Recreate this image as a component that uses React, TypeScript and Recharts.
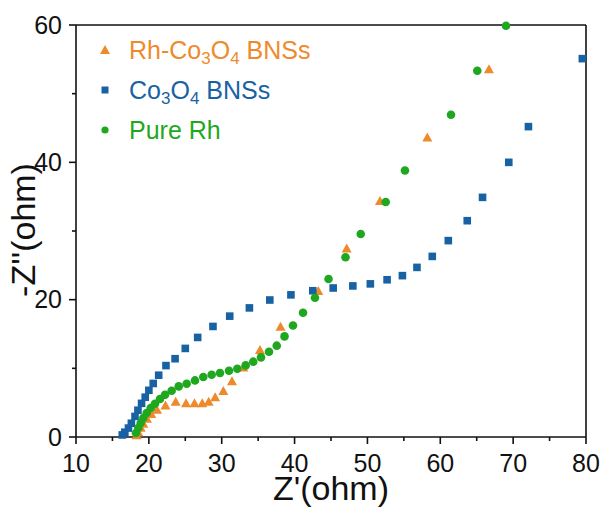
import { ReferenceLine, Scatter, ScatterChart, XAxis, YAxis } from "recharts";

/**
 * Nyquist plot: Rh-Co3O4 BNSs vs Co3O4 BNSs vs pure Rh.
 * Values, in ohm.
 */

const FONT = "'Liberation Sans', Arial, sans-serif";
const INK = "#111";

const ORANGE = "#ef8a2c";
const BLUE = "#1862a4";
const GREEN = "#1fa81f";

const X_TICKS = [10, 15, 20, 25, 30, 35, 40, 45, 50, 55, 60, 65, 70, 75, 80];
const Y_TICKS = [0, 10, 20, 30, 40, 50, 60];

const rhCoX = [
  18.33, 18.55, 18.88, 19.24, 19.74, 20.33, 21.12, 22.28, 23.68, 25.1, 26.26, 27.33,
  28.21, 29.1, 30.22, 31.41, 32.96, 35.25, 38.07, 43.26, 47.15, 51.72, 58.22, 66.68,
];
const rhCoY = [
  0.19, 0.63, 1.28, 1.86, 2.59, 3.28, 3.9, 4.51, 5.07, 4.85, 4.85, 4.85,
  5.07, 5.72, 6.64, 8.05, 10.05, 12.61, 15.99, 21.2, 27.38, 34.31, 43.54, 53.49,
];

const coX = [
  16.35, 16.7, 17.2, 17.6, 18.1, 18.5, 19.0, 19.5, 20.0, 20.6, 21.35, 22.35, 23.6, 25.0,
  26.7, 28.8, 31.1, 33.8, 36.6, 39.5, 42.5, 45.3, 48.0, 50.4, 52.7, 54.8, 56.8, 58.9,
  61.1, 63.7, 65.8, 69.4, 72.1, 79.5,
];
const coY = [
  0.3, 0.7, 1.3, 2.0, 3.0, 3.9, 4.9, 5.8, 6.8, 7.8, 9.0, 10.4, 11.4, 12.9,
  14.5, 16.1, 17.6, 18.8, 19.95, 20.7, 21.3, 21.7, 22.0, 22.3, 22.9, 23.5, 24.7, 26.3,
  28.6, 31.5, 34.9, 40.0, 45.2, 55.1,
];

const rhX = [
  18.23, 18.55, 18.88, 19.24, 19.7, 20.25, 20.84, 21.53, 22.22, 23.13, 24.1, 25.19,
  26.33, 27.47, 28.62, 29.76, 31.0, 32.14, 33.29, 34.33, 35.39, 36.49, 37.55, 38.62,
  39.78, 41.16, 42.8, 44.66, 46.99, 49.08, 52.51, 55.15, 61.47, 65.08, 69.02,
];
const rhY = [
  0.58, 1.31, 2.04, 2.77, 3.5, 4.22, 4.85, 5.53, 6.16, 6.74, 7.37, 7.76,
  8.24, 8.74, 9.07, 9.32, 9.65, 9.95, 10.43, 10.97, 11.59, 12.42, 13.3, 14.65,
  16.24, 18.1, 20.29, 23.0, 26.18, 29.56, 34.22, 38.82, 46.93, 53.34, 59.9,
];

const zip = (xs: number[], ys: number[]) => xs.map((x, i) => ({ x, y: ys[i] }));

const rhCoData = zip(rhCoX, rhCoY);
const coData = zip(coX, coY);
const rhData = zip(rhX, rhY);

// marker shapes, drawn around the point Recharts computes
const Triangle = ({ cx, cy, fill }: any) => (
  <polygon
    points={`${cx},${cy - 5.5} ${cx - 5},${cy + 3.5} ${cx + 5},${cy + 3.5}`}
    fill={fill}
  />
);
const Square = ({ cx, cy, fill }: any) => (
  <rect x={cx - 3.8} y={cy - 3.8} width={7.6} height={7.6} fill={fill} />
);
const Dot = ({ cx, cy, fill }: any) => <circle cx={cx} cy={cy} r={4.3} fill={fill} />;

// ticks: major ones get a label, minor ones only a short line
function XTick({ x, y, payload }: any) {
  const major = payload.value % 10 === 0;
  return (
    <g>
      <line x1={x} x2={x} y1={y} y2={y + (major ? 7 : 4)} stroke={INK} strokeWidth={1.6} />
      {major && (
        <text x={x} y={y + 35} textAnchor="middle" fontSize={25} fontFamily={FONT} fill={INK}>
          {payload.value}
        </text>
      )}
    </g>
  );
}

function YTick({ x, y, payload }: any) {
  const major = payload.value % 20 === 0;
  return (
    <g>
      <line x1={x} x2={x - (major ? 7 : 4)} y1={y} y2={y} stroke={INK} strokeWidth={1.6} />
      {major && (
        <text x={x - 14} y={y} dy="0.35em" textAnchor="end" fontSize={25} fontFamily={FONT} fill={INK}>
          {payload.value}
        </text>
      )}
    </g>
  );
}

const Sub = ({ children }: { children: string }) => (
  <span style={{ fontSize: "0.68em", position: "relative", top: "0.32em" }}>{children}</span>
);

function LegendRow({ top, color, marker, children }: any) {
  return (
    <div style={{ position: "absolute", left: 97, top: top - 15, height: 30, display: "flex" }}>
      <svg width={16} height={30}>
        {marker === "triangle" && <Triangle cx={8} cy={15.5} fill={color} />}
        {marker === "square" && <rect x={4.5} y={11.5} width={7} height={7} fill={color} />}
        {marker === "circle" && <circle cx={8} cy={15} r={3.6} fill={color} />}
      </svg>
      <span
        style={{
          marginLeft: 16,
          fontFamily: FONT,
          fontSize: 25,
          lineHeight: "30px",
          color,
          whiteSpace: "nowrap",
        }}
      >
        {children}
      </span>
    </div>
  );
}

export default function App() {
  return (
    <div style={{ position: "absolute", left: 0, top: 0, width: 604, height: 509, background: "#fff" }}>
      <ScatterChart width={604} height={509} margin={{ top: 25, right: 18, bottom: 0, left: 0 }}>
        <XAxis
          type="number"
          dataKey="x"
          domain={[10, 80]}
          ticks={X_TICKS}
          interval={0}
          height={72}
          tickSize={0}
          tickMargin={0}
          tickLine={false}
          tick={<XTick />}
          axisLine={{ stroke: INK, strokeWidth: 1.6 }}
          label={({ viewBox }: any) => (
            <text
              x={viewBox.x + viewBox.width / 2}
              y={viewBox.y + 63}
              textAnchor="middle"
              fontSize={34}
              fontFamily={FONT}
              fill={INK}
            >
              Z'(ohm)
            </text>
          )}
        />
        <YAxis
          type="number"
          dataKey="y"
          domain={[0, 60]}
          ticks={Y_TICKS}
          interval={0}
          width={76}
          tickSize={0}
          tickMargin={0}
          tickLine={false}
          tick={<YTick />}
          axisLine={{ stroke: INK, strokeWidth: 1.6 }}
          label={({ viewBox }: any) => {
            const cy = viewBox.y + viewBox.height / 2 - 1;
            return (
              <text
                x={35}
                y={cy}
                transform={`rotate(-90, 35, ${cy})`}
                textAnchor="middle"
                fontSize={34}
                fontFamily={FONT}
                fill={INK}
              >
                -Z''(ohm)
              </text>
            );
          }}
        />
        <ReferenceLine y={60} stroke={INK} strokeWidth={1.6} />
        <ReferenceLine x={80} stroke={INK} strokeWidth={1.6} />
        <Scatter data={rhCoData} fill={ORANGE} shape={<Triangle />} isAnimationActive={false} />
        <Scatter data={coData} fill={BLUE} shape={<Square />} isAnimationActive={false} />
        <Scatter data={rhData} fill={GREEN} shape={<Dot />} isAnimationActive={false} />
      </ScatterChart>

      <LegendRow top={50} color={ORANGE} marker="triangle">
        Rh-Co<Sub>3</Sub>O<Sub>4</Sub> BNSs
      </LegendRow>
      <LegendRow top={90} color={BLUE} marker="square">
        Co<Sub>3</Sub>O<Sub>4</Sub> BNSs
      </LegendRow>
      <LegendRow top={130} color={GREEN} marker="circle">
        Pure Rh
      </LegendRow>
    </div>
  );
}
